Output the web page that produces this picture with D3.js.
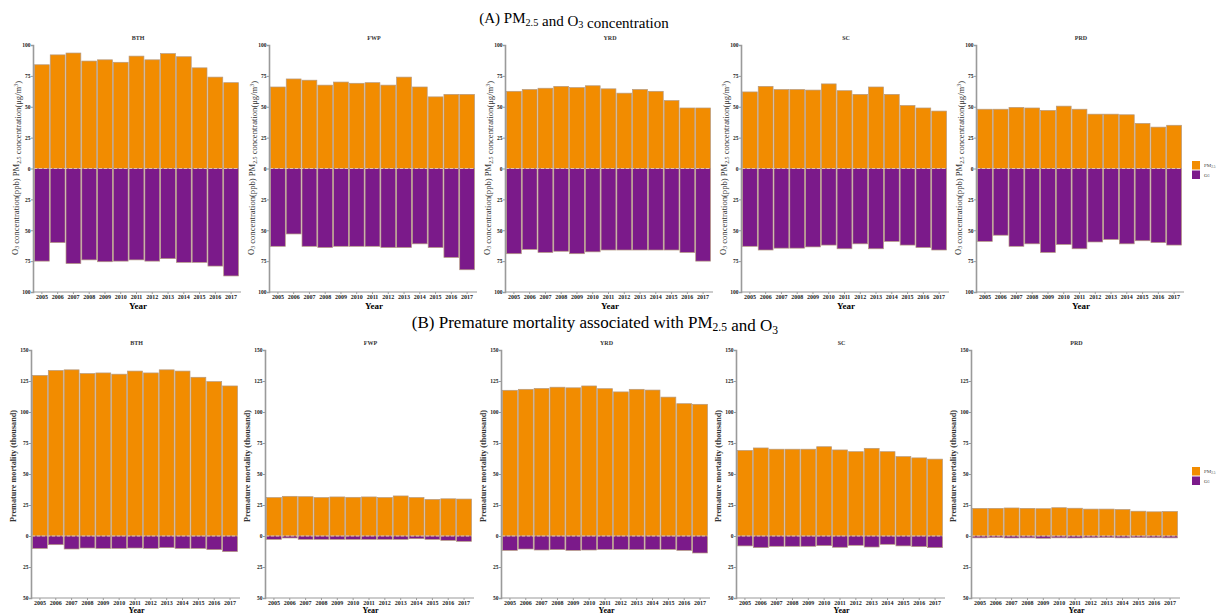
<!DOCTYPE html>
<html>

<head>
  <meta charset="utf-8">
  <title>PM2.5 and O3</title>
  <script src="https://cdn.jsdelivr.net/npm/d3@7"></script>
  <style>
    body {
      margin: 0;
      background: #fff;
      font-family: "Liberation Serif", "Times New Roman", serif;
    }

    .axis path,
    .axis line {
      stroke: #9a9a9a;
    }

    .axis text {
      font-family: "Liberation Serif", serif;
      font-weight: bold;
      fill: #222;
    }
  </style>
</head>

<body>
  <script>
    var years = ["2005", "2006", "2007", "2008", "2009", "2010", "2011", "2012", "2013", "2014", "2015", "2016", "2017"];
    var regions = ["BTH", "FWP", "YRD", "SC", "PRD"];

    // (A) concentrations, one array per region (same order as regions)
    var pmConc = [
      [84, 92, 93.5, 87, 88, 86, 91, 88, 93, 90.5, 81.5, 74, 69.5],
      [66, 72.5, 71.5, 67.5, 70, 69, 69.5, 67.5, 74, 66, 58, 60, 60],
      [62.5, 64, 65, 66.5, 65.5, 67, 64.5, 61, 64, 62.5, 55, 49, 49],
      [62, 66.5, 64, 64, 63.5, 68.5, 63, 60, 66, 60, 51, 49, 46.5],
      [48, 48, 49.5, 49, 47, 50.5, 48, 44, 44, 43.5, 36.5, 33.5, 35]
    ];
    var o3Conc = [
      [75, 60, 77, 74, 75.5, 75, 74, 75, 73, 76, 76, 79, 87],
      [63, 53, 63, 64, 63, 63, 63, 64, 64, 61, 64, 72, 82],
      [69, 65.5, 68, 67, 69, 67.5, 66, 66, 66, 66, 66, 68, 75],
      [63, 66, 64.5, 64.5, 63.5, 62, 65, 61, 65, 59, 62, 64, 66],
      [59, 54, 63, 61, 68, 61.5, 65, 59.5, 57.5, 61, 58.5, 60, 62]
    ];

    // (B) premature mortality (thousand)
    var pmMort = [
      [129.5, 133.5, 134, 131, 131.5, 130.5, 133, 131.5, 134, 133, 128, 124.5, 121],
      [31, 32, 31.7, 31, 31.5, 31.2, 31.5, 31, 32.3, 31, 29.5, 30, 29.8],
      [117.5, 118.3, 119, 120, 119.5, 121, 118.8, 116.2, 118.3, 117.7, 112, 106.7, 106.2],
      [69, 71, 70, 70, 70, 72, 69.4, 68, 70.7, 68, 64, 63, 62],
      [22.3, 22.3, 22.6, 22.3, 22, 22.8, 22.4, 21.7, 21.7, 21.4, 20, 19.5, 19.8]
    ];
    var o3Mort = [
      [10, 7, 10.5, 9.7, 10, 10, 9.7, 10, 9.4, 10, 10, 11, 12.6],
      [2.7, 1.6, 2.7, 2.7, 2.7, 2.7, 2.7, 2.7, 2.7, 2.2, 2.7, 3.5, 4.3],
      [11.6, 10.5, 11.3, 11, 11.6, 11.3, 10.8, 10.8, 11, 10.8, 10.8, 11.6, 13.7],
      [8, 9.4, 8.3, 8.3, 8.3, 7.8, 9.1, 7.5, 8.9, 6.7, 8, 8.6, 9.4],
      [1.5, 1.3, 1.6, 1.5, 1.8, 1.5, 1.6, 1.4, 1.3, 1.5, 1.3, 1.4, 1.5]
    ];

    var concTicks = [-100, -75, -50, -25, 0, 25, 50, 75, 100];
    var mortTicks = [-50, -25, 0, 25, 50, 75, 100, 125, 150];

    var pmColor = "#f28c00",
      o3Color = "#7b1a8a";

    var width = 1222,
      height = 615;

    var svg = d3.select("body").append("svg")
      .attr("width", width)
      .attr("height", height);

    var rowA = {
      top: 45, bottom: 292, axisX: [33, 269, 505, 741, 976], plotW: 206, yearDy: 17,
      domain: [-100, 100], ticks: concTicks, pm: pmConc, o3: o3Conc, legendY: 161
    };
    var rowB = {
      top: 350, bottom: 598, axisX: [31, 265, 501, 736, 971], plotW: 207, yearDy: 15,
      domain: [-50, 150], ticks: mortTicks, pm: pmMort, o3: o3Mort, legendY: 467
    };

    // text with subscripts
    function subText(sel, parts) {
      parts.forEach(function (p) {
        var t = sel.append("tspan").text(p[0]);
        if (p[1]) {
          t.attr("font-size", "0.68em").attr("dy", "0.25em");
          sel.append("tspan").attr("dy", "-0.25em").text("");
        }
      });
    }

    var titleA = svg.append("text")
      .attr("x", 574).attr("y", 23)
      .attr("text-anchor", "middle")
      .attr("font-size", 15);
    subText(titleA, [["(A) PM"], ["2.5", true], [" and  O"], ["3", true], [" concentration"]]);

    var titleB = svg.append("text")
      .attr("x", 595).attr("y", 328)
      .attr("text-anchor", "middle")
      .attr("font-size", 17);
    subText(titleB, [["(B) Premature mortality associated with PM"], ["2.5", true], [" and  O"], ["3", true]]);

    drawRow(rowA, true);
    drawRow(rowB, false);

    function drawRow(row, isConc) {
      regions.forEach(function (name, i) {
        var ax = row.axisX[i];
        var g = svg.append("g");

        var x = d3.scaleBand()
          .domain(years)
          .range([ax + 1, ax + row.plotW])
          .paddingInner(0.06)
          .paddingOuter(0.03);
        var y = d3.scaleLinear()
          .domain(row.domain)
          .range([row.bottom, row.top]);

        var pmData = years.map(function (yr, k) { return { year: yr, value: row.pm[i][k] }; });
        var o3Data = years.map(function (yr, k) { return { year: yr, value: row.o3[i][k] }; });

        g.append("g").selectAll("rect")
          .data(pmData)
          .join("rect")
          .attr("x", d => x(d.year))
          .attr("y", d => y(d.value))
          .attr("width", x.bandwidth())
          .attr("height", d => y(0) - y(d.value))
          .attr("fill", pmColor)
          .attr("stroke", "#b59a80")
          .attr("stroke-width", 0.7);

        g.append("g").selectAll("rect")
          .data(o3Data)
          .join("rect")
          .attr("x", d => x(d.year))
          .attr("y", y(0))
          .attr("width", x.bandwidth())
          .attr("height", d => y(-d.value) - y(0))
          .attr("fill", o3Color)
          .attr("stroke", "#b59a80")
          .attr("stroke-width", 0.7);

        // dashed zero line
        g.append("line")
          .attr("x1", ax + 1).attr("x2", ax + row.plotW)
          .attr("y1", y(0)).attr("y2", y(0))
          .attr("stroke", "#f3d2b0")
          .attr("stroke-width", 0.8)
          .attr("stroke-dasharray", "3,2");

        var yAxis = d3.axisLeft(y)
          .tickValues(row.ticks)
          .tickFormat(d => Math.abs(d))
          .tickSizeOuter(0)
          .tickSize(2);
        var ya = g.append("g")
          .attr("class", "axis")
          .attr("transform", "translate(" + ax + ",0)")
          .call(yAxis);
        ya.select(".domain").attr("stroke-width", 1.6);
        ya.selectAll("text").attr("font-size", 5.5).attr("x", -2.5);

        var xAxis = d3.axisBottom(x)
          .tickSizeOuter(0)
          .tickSize(2);
        var xa = g.append("g")
          .attr("class", "axis")
          .attr("transform", "translate(0," + row.bottom + ")")
          .call(xAxis);
        xa.select(".domain").attr("d", "M" + ax + ",0H" + (ax + row.plotW + 2)).attr("stroke-width", 1.2);
        xa.selectAll("text").attr("font-size", 6).attr("y", 3);

        g.append("text")
          .attr("x", ax + row.plotW / 2 + 2)
          .attr("y", row.bottom + row.yearDy)
          .attr("text-anchor", "middle")
          .attr("font-weight", "bold")
          .attr("font-size", isConc ? 9 : 8)
          .text("Year");

        g.append("text")
          .attr("x", ax + row.plotW / 2 + 2)
          .attr("y", row.top - 5)
          .attr("text-anchor", "middle")
          .attr("font-weight", "bold")
          .attr("font-size", 6)
          .attr("fill", "#333")
          .text(name);

        // y axis label
        var labelY = isConc ? 168 : 466;
        var lab = g.append("text")
          .attr("transform", "translate(" + (ax - 15) + "," + labelY + ") rotate(-90)")
          .attr("text-anchor", "middle");
        if (isConc) {
          lab.attr("font-size", 8.6).attr("fill", "#333");
          subText(lab, [["O"], ["3", true], [" concentration(ppb)  PM"], ["2.5", true], [" concentration(\u03bcg/m"], ["3", false], [")"]]);
          lab.selectAll("tspan").filter(function () { return d3.select(this).text() === "3" && !d3.select(this).attr("dy"); })
            .attr("font-size", "0.68em").attr("baseline-shift", "super");
        } else {
          lab.attr("font-size", 8.2).attr("font-weight", "bold").attr("fill", "#333")
            .text("Premature mortality (thousand)");
        }
      });

      // legend
      var lg = svg.append("g").attr("transform", "translate(1192," + row.legendY + ")");
      lg.append("rect").attr("width", 8).attr("height", 8.5).attr("fill", pmColor);
      lg.append("rect").attr("y", 9.5).attr("width", 8).attr("height", 8.5).attr("fill", o3Color);
      var t1 = lg.append("text").attr("x", 12).attr("y", 6).attr("font-size", 5).attr("fill", "#444");
      subText(t1, [["PM"], ["2.5", true]]);
      var t2 = lg.append("text").attr("x", 12).attr("y", 15.5).attr("font-size", 5).attr("fill", "#444");
      subText(t2, [["O"], ["3", true]]);
    }
  </script>
</body>

</html>
